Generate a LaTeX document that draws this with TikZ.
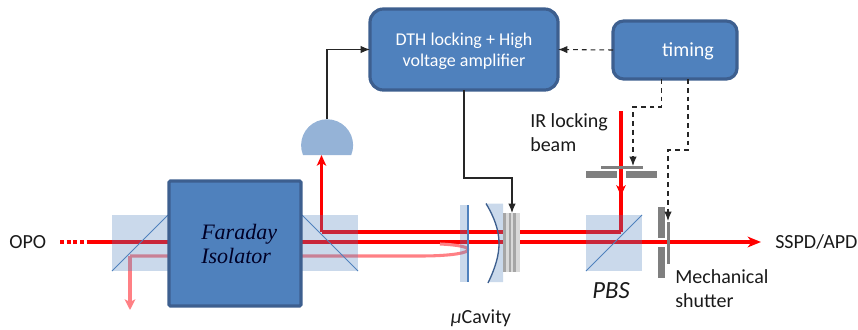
\documentclass[tikz,border=0pt]{standalone}
\usepackage{fontspec}
\setmainfont{Carlito}
\newfontfamily\mathlike{Liberation Serif}
\usetikzlibrary{arrows.meta,calc}
\definecolor{boxfill}{HTML}{4F81BD}
\definecolor{boxedge}{HTML}{3D5F8F}
\definecolor{detfill}{HTML}{95B3D7}
\definecolor{barc}{HTML}{7F7F7F}
\definecolor{pinkb}{HTML}{FF8085}
\definecolor{txt}{HTML}{1A1A1A}
\tikzset{
 x=0.75pt,y=-0.75pt,
 bluebox/.style={draw=boxedge,fill=boxfill,line width=2.4pt,rounded corners=#1,inner sep=0pt,outer sep=0pt},
 optic/.style={fill=boxfill,fill opacity=.3,draw=none,inner sep=0pt,outer sep=0pt},
 split/.style={draw=boxfill,line width=.75pt},
 beam/.style={draw=red,line width=2.3pt},
 ghost/.style={draw=pinkb,line width=2.3pt},
 sig/.style={draw=black!85,line width=.8pt,-{Latex[length=7pt,width=5.5pt]}},
 sigd/.style={draw=black!85,line width=.8pt,dash pattern=on 3.6pt off 3pt,-{Latex[length=7pt,width=5.5pt]}},
 bar/.style={fill=barc,draw=none,inner sep=0pt,outer sep=0pt},
 lab/.style={text=txt,inner sep=0pt,font=\fontsize{15}{18}\selectfont,align=left},
}
\newcommand{\boxat}[6]{\node[#1,minimum width=#4*.75pt,minimum height=#5*.75pt,anchor=north west] (#6) at (#2,#3) {};}
\begin{document}
\begin{tikzpicture}
\useasboundingbox (0,0) rectangle (858,329);
% beams, under the optics
\coordinate (opoEnd) at (60,242);
\coordinate (opoSolid) at (90,242);
\coordinate (detOut) at (761,242);
\coordinate (ghostOut) at (130,310);
\coordinate (irStart) at (621,111);
\coordinate (corner) at (621,232);
\coordinate (retro) at (321.5,232);
\coordinate (detIn) at (321.5,155);
\draw[red,line width=2.3pt,dash pattern=on 3pt off 2pt] (opoEnd) -- (opoSolid);
\draw[beam] (opoSolid) -- (330,242);
\draw[beam,-{Stealth[length=10pt,width=8pt,inset=3pt]}] (330,242) -- (detOut);
\draw[beam] (corner) -- (retro);
\draw[beam,-{Stealth[length=8pt,width=7pt,inset=2pt]}] (retro) -- (detIn);
\draw[beam] (irStart) -- (corner);
\draw[beam,-{Stealth[length=8pt,width=7pt,inset=2pt]}] (irStart) -- (621,196);
\draw[ghost,line join=round] (440,244) .. controls (484,246) and (476,256) .. (420,256) -- (130,256);
\draw[ghost,-{Stealth[length=8pt,width=8pt,inset=2pt]}] (130,256) -- (ghostOut);
% beam splitters
\boxat{optic}{112}{215}{56}{56}{bsL}
\boxat{optic}{302}{215}{56}{56}{bsR}
\boxat{optic}{586}{215}{56}{56}{pbs}
\draw[split] (bsL.south west) -- (bsL.north east);
\draw[split] (bsR.north west) -- (bsR.south east);
\draw[split] (pbs.south west) -- (pbs.north east);
% cavity
\boxat{optic}{460}{205}{8}{77}{mirA}
\draw[draw=boxfill,line width=1pt] (mirA.north east) -- (mirA.south east);
\fill[boxfill,fill opacity=.3] (486,203.5) -- (503,203.5) -- (503,282) -- (488,282) .. controls (503,252) and (503,232) .. (486,203.5) -- cycle;
\draw[boxedge,line width=1pt] (486,203.5) .. controls (503,232) and (503,252) .. (488,283);
% mirror stack
\boxat{bar,fill=black!15}{503}{213}{17}{59}{stack}
\foreach \xa/\w in {503/2.5,508.5/2,513/2.5}
  \fill[black!35] (\xa,213) rectangle ++(\w,59);
% shutters
\boxat{bar}{601}{166}{42}{3}{shA}
\boxat{bar}{586}{171}{31}{7}{shAl}
\boxat{bar}{626}{171}{31}{7}{shAr}
\boxat{bar}{658}{207}{7}{31}{shBu}
\boxat{bar}{658}{247}{7}{31}{shBd}
\boxat{bar}{667}{222}{3}{42}{shB}
% blue boxes
\boxat{bluebox=1pt}{169}{181}{132}{125}{fi}
\boxat{bluebox=10pt}{370}{9}{188}{81}{dth}
\boxat{bluebox=8pt}{613}{21}{124}{58}{timing}
\node[text=white,align=center,font=\fontsize{13.5}{15.7}\selectfont,inner sep=0pt] (dthT) at (464,51) {DTH locking + High\\voltage amplifier};
\node[text=white,font=\fontsize{15}{15}\selectfont,inner sep=0pt] (timT) at (688,51) {timing};
\node[text=black!85!blue,align=left,font=\mathlike\itshape\fontsize{16.5}{17.5}\selectfont,inner sep=0pt,anchor=west] (fiT) at (201,244) {Faraday\\Isolator};
% detector
\fill[detfill] (303,155) arc[start angle=202,end angle=-22,x radius=26,y radius=-26] -- cycle;
\coordinate (det) at (327,119);
% connectors
\coordinate (cavIn) at (512,213);
\coordinate (shAIn) at (633,166);
\coordinate (shBIn) at (668,221);
\draw[sig] (det) |- (dth.west);
\draw[sig] (dth.south) -- (464,178) -- (512,178) -- (cavIn);
\draw[sigd] (timing.west) -- (dth.east);
\draw[sigd] (661.5,79) -- (661.5,107) -- (633,107) -- (shAIn);
\draw[sigd] (688,79) -- (688,150) -- (668,150) -- (shBIn);
% labels
\node[lab,anchor=west] (opoT) at (9,242) {OPO};
\node[lab,anchor=west] (irT) at (530,133) {IR locking\\beam};
\node[lab,anchor=west] (sspd) at (775,242) {SSPD/APD};
\node[lab,anchor=west] (mech) at (675,288.5) {Mechanical\\shutter};
\node[lab,anchor=center,font=\itshape\fontsize{18.5}{20}\selectfont] (pbsT) at (611,291) {PBS};
\node[lab,anchor=center] (cavT) at (481,318) {\textit{μ}Cavity};
\end{tikzpicture}
\end{document}
